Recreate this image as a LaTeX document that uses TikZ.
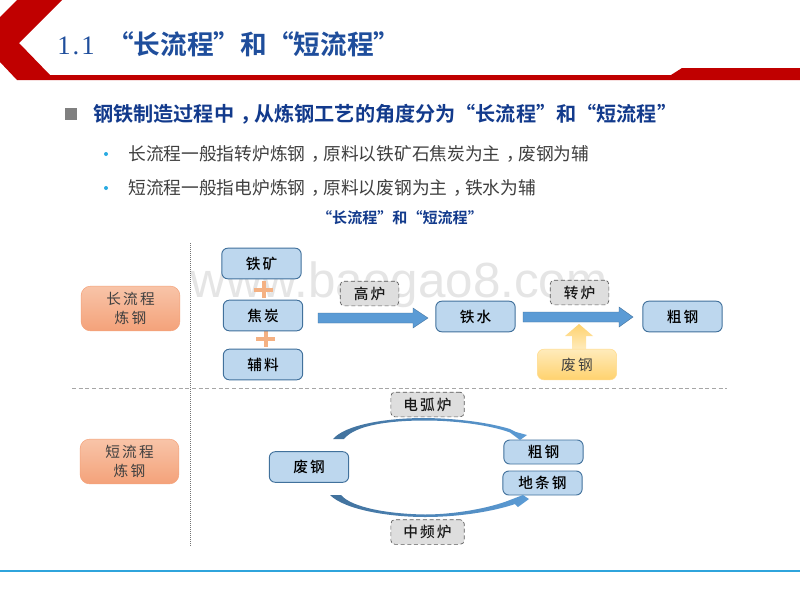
\documentclass[tikz,border=0pt]{standalone}
\usepackage{fontspec}
\setmainfont{Noto Sans CJK SC}
\newfontfamily\cjkb{Noto Sans CJK SC Bold}
\newfontfamily\cjkm[LetterSpace=14]{Noto Sans CJK SC Medium}
\newfontfamily\cjkr[LetterSpace=15]{Noto Sans CJK SC}
\newfontfamily\latinserif{Liberation Serif}
\newcommand{\oqt}{\makebox[1em][r]{“}}
\newcommand{\cqt}{\makebox[1em][l]{”}}
\newcommand{\zc}{\makebox[1em][l]{\hspace*{.32em}，}}
\definecolor{ttl}{HTML}{1F4E9C}
\definecolor{hdr}{HTML}{123A8C}
\definecolor{redd}{HTML}{C00000}
\definecolor{boxf}{HTML}{BDD7EE}
\definecolor{boxd}{HTML}{41719C}
\definecolor{arrowb}{HTML}{5B9BD5}
\definecolor{footb}{HTML}{2FA4DC}
\definecolor{bul}{HTML}{29ABE2}
\definecolor{routet}{HTML}{F8C4A8}
\definecolor{routeb}{HTML}{F4A27A}
\definecolor{scrapt}{HTML}{FFEBBB}
\definecolor{scrapb}{HTML}{FFD26E}
\definecolor{plusc}{HTML}{F4B183}
\tikzset{
  x=0.75pt,y=-0.75pt,
  proc/.style={draw=boxd,line width=0.7pt,fill=boxf,rounded corners=4.5pt,minimum width=59.5pt,minimum height=23pt,inner sep=0pt,font=\fontsize{11pt}{12pt}\cjkm,text=black},
  furn/.style={draw=black!65,densely dashed,line width=0.5pt,fill=black!13,rounded corners=3pt,minimum width=44pt,minimum height=18.5pt,inner sep=0pt,font=\fontsize{11pt}{12pt}\cjkm,text=black!90},
  route/.style={rounded corners=7pt,draw=routeb,line width=0.4pt,top color=routet,bottom color=routeb,minimum width=74pt,minimum height=33.5pt,inner sep=0pt,align=center,font=\fontsize{11pt}{14pt}\cjkr,text=black!75},
  scrap/.style={rounded corners=5pt,draw=scrapb!80,line width=0.4pt,top color=scrapt,bottom color=scrapb,minimum width=59.5pt,minimum height=23pt,inner sep=0pt,font=\fontsize{11pt}{12pt}\cjkr,text=black!75},
  plus/.style={fill=plusc,draw=none},
  sepv/.style={black!55,densely dotted,line width=0.5pt},
  seph/.style={black!35,densely dashed,line width=0.4pt},
}
\begin{document}
\begin{tikzpicture}
\useasboundingbox (0,0) rectangle (800,600);
\fill[white] (0,0) rectangle (800,600);
% header
\fill[redd] (17,0) -- (62,0) -- (19,43) -- (50,75) -- (671,75) -- (682,68) -- (800,68) -- (800,80) -- (17,80) -- (0,62) -- (0,17) -- cycle;
\node[anchor=west,text=ttl,inner sep=0pt] (title) at (57,44) {\fontsize{20pt}{24pt}\selectfont{\latinserif 1\hspace{1.5pt}.\hspace{1.5pt}1}\hspace{9.5pt}\cjkb\oqt 长流程\cqt 和\oqt 短流程\cqt};
\fill[black!50] (65,108) rectangle (77,120);
\node[anchor=west,text=hdr,inner sep=0pt] (head) at (93,114) {\cjkb\fontsize{15.1pt}{17pt}\selectfont 钢铁制造过程中\zc 从炼钢工艺的角度分为\oqt 长流程\cqt 和\oqt 短流程\cqt};
\fill[bul] (106,154) circle (2);
\fill[bul] (106,188) circle (2);
\node[anchor=west,text=black!75,inner sep=0pt] (l1) at (128,154) {\fontsize{13.3pt}{15pt}\selectfont 长流程一般指转炉炼钢\zc 原料以铁矿石焦炭为主\zc 废钢为辅};
\node[anchor=west,text=black!75,inner sep=0pt] (l2) at (128,188) {\fontsize{13.3pt}{15pt}\selectfont 短流程一般指电炉炼钢\zc 原料以废钢为主\zc 铁水为辅};
\node[text=hdr,inner sep=0pt] (cap) at (400,218) {\cjkb\fontsize{11.3pt}{13pt}\selectfont \oqt 长流程\cqt 和\oqt 短流程\cqt};
% watermark
\node[text=black!10,inner sep=0pt] (wm) at (399,285) {\fontsize{37pt}{42pt}\selectfont\fontspec{Liberation Sans}www.baogao8.com};
% separators
\coordinate (vt) at (190,243); \coordinate (vb) at (190,546);
\coordinate (hl) at (72,388); \coordinate (hr) at (727,388);
\draw[sepv] (vt) -- (vb);
\draw[seph] (hl) -- (hr);
% route labels
\node[route] (long) at (130.5,308.5) {长流程\\炼钢};
\node[route] (short) at (129.5,461.5) {短流程\\炼钢};
% arrows
\fill[arrowb,draw=boxd,line width=0.3pt] (318,313) -- (413,313) -- (413,308) -- (428,318) -- (413,328) -- (413,323) -- (318,323) -- cycle;
\fill[arrowb,draw=boxd,line width=0.3pt] (523,312) -- (619,312) -- (619,307) -- (633,317) -- (619,327) -- (619,322) -- (523,322) -- cycle;
\shade[top color=scrapb,bottom color=scrapt] (579,324) -- (593,336) -- (586,336) -- (586,349) -- (572,349) -- (572,336) -- (565,336) -- cycle;
% plus signs
\fill[plus] (254,288) rectangle (273,292); \fill[plus] (261.5,281) rectangle (265.5,298);
\fill[plus] (256,337) rectangle (275,341); \fill[plus] (263.5,330) rectangle (267.5,347);
% nodes
\node[proc] (ore) at (261.5,263.5) {铁矿};
\node[proc] (coke) at (263,315.5) {焦炭};
\node[proc] (flux) at (263,364.5) {辅料};
\node[proc] (iron) at (475.5,316.5) {铁水};
\node[proc] (steel) at (682.5,316.5) {粗钢};
\node[scrap] (scrapa) at (577,364.5) {废钢};
\node[furn] (bf) at (369.5,293.5) {高炉};
\node[furn] (bof) at (579.5,292.5) {转炉};
\node[proc] (scrapb) at (309,467) {废钢};
\node[proc,minimum height=18pt] (steelb) at (543.5,452) {粗钢};
\node[proc,minimum height=18pt] (bar) at (542.5,483) {地条钢};
\node[furn,minimum width=55pt] (eaf) at (427.5,404.5) {电弧炉};
\node[furn,minimum width=55pt] (mf) at (427.5,532) {中频炉};
% curved arrows
\shade[left color=boxd,right color=arrowb] (333,439) .. controls (345,425) and (385,418) .. (425,418) .. controls (460,418.5) and (490,423) .. (510,429) -- (516,432) -- (527,435) -- (520,440) -- (510,432.5) .. controls (490,425) and (455,420.5) .. (425,420.5) .. controls (390,420.5) and (355,425) .. (344,439) -- cycle;
\shade[left color=boxd,right color=arrowb] (330,495) .. controls (345,510) and (390,517) .. (425,517) .. controls (460,517) and (495,511) .. (515,504) -- (518,507) -- (529,499) -- (523,495) -- (510,500) .. controls (490,508) and (455,514.5) .. (425,514.5) .. controls (390,514) and (352,508) .. (341,495) -- cycle;
% footer
\fill[footb] (0,570) rectangle (800,572);
\end{tikzpicture}
\end{document}
